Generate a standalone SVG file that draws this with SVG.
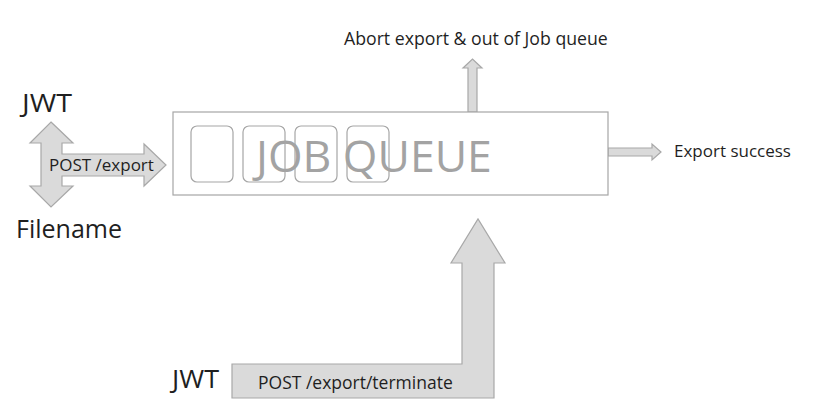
<svg xmlns="http://www.w3.org/2000/svg" width="821" height="403" viewBox="0 0 821 403">
<style>
text{font-family:"Open Sans","Liberation Sans",sans-serif;fill:#1f1f1f}
.arrow{fill:#dadada;stroke:#a8a8a8;stroke-width:1.2;stroke-linejoin:miter}
.box{fill:#ffffff;stroke:#a6a6a6;stroke-width:1.2}
.slot{fill:none;stroke:#a6a6a6;stroke-width:1.2}
.lbl{font-size:17px}
.big{font-size:25px}
</style>
<rect width="821" height="403" fill="#ffffff"/>
<g id="connectors">
<polygon class="arrow" points="468,112 468,68 463,68 472.5,59 482,68 477,68 477,112"/>
<polygon class="arrow" points="608,148 652,148 652,144 661,152 652,160 652,156 608,156"/>
<polygon class="arrow" points="51,122 73,143 62,143 62,154 144,154 144,144 166,165 144,186 144,176 62,176 62,186 73,186 51,207 30,186 41,186 41,176 41,143 30,143"/>
<polygon class="arrow" points="232,364 462,364 462,263 451,263 478,219 505,263 494,263 494,398 232,398"/>
</g>
<g id="job-queue">
<rect class="box" x="173" y="112" width="435" height="83"/>
<text x="256" y="172" style="font-size:44.5px;fill:#a3a3a3">JOB QUEUE</text>
<rect class="slot" x="191" y="126" width="42" height="56" rx="6"/>
<rect class="slot" x="243" y="126" width="42" height="56" rx="6"/>
<rect class="slot" x="295" y="126" width="42" height="56" rx="6"/>
<rect class="slot" x="347" y="126" width="42" height="56" rx="6"/>
</g>
<g id="abort">
<text class="lbl" x="344" y="45" style="font-size:17.7px">Abort export &amp; out of Job queue</text>
</g>
<g id="success">
<text class="lbl" x="674" y="157">Export success</text>
</g>
<g id="jwt-top">
<text class="big" x="22" y="112" textLength="50" lengthAdjust="spacingAndGlyphs">JWT</text>
</g>
<g id="filename">
<text class="big" x="16" y="238">Filename</text>
</g>
<g id="post-export">
<text class="lbl" x="49" y="171">POST /export</text>
</g>
<g id="jwt-bottom">
<text class="big" x="172" y="388" textLength="47" lengthAdjust="spacingAndGlyphs">JWT</text>
</g>
<g id="post-terminate">
<text class="lbl" x="258" y="389" style="font-size:17.5px">POST /export/terminate</text>
</g>
</svg>
